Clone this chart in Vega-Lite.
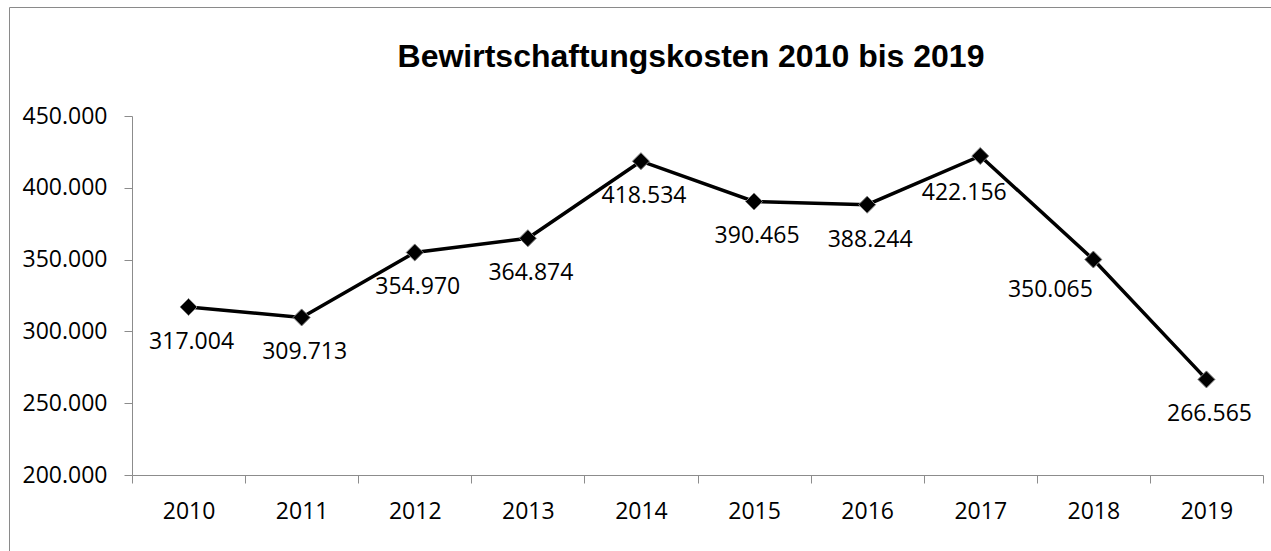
{
  "$schema": "https://vega.github.io/schema/vega-lite/v6.json",
  "autosize": {"type": "none"},
  "padding": {"left": 9, "top": 7, "right": 0, "bottom": 0},
  "width": 1262,
  "height": 544,
  "background": "white",
  "config": {
    "locale": {"number": {"decimal": ",", "thousands": ".", "grouping": [3], "currency": ["", " €"]}},
    "view": {"stroke": "#8a8a8a", "strokeWidth": 1},
    "axis": {"grid": false, "domainColor": "#8c8c8c", "tickColor": "#8c8c8c", "domainWidth": 1, "tickWidth": 1, "labelFont": "Open Sans", "labelFontSize": 23, "labelColor": "#000000", "title": null}
  },
  "title": {
    "text": "Bewirtschaftungskosten 2010 bis 2019",
    "font": "Liberation Sans",
    "fontSize": 32,
    "fontWeight": "bold",
    "color": "#000000",
    "anchor": "middle",
    "frame": "group",
    "baseline": "alphabetic",
    "dx": 51,
    "offset": -92
  },
  "data": {"values": [
    {"year": "2010", "value": 317004},
    {"year": "2011", "value": 309713},
    {"year": "2012", "value": 354970},
    {"year": "2013", "value": 364874},
    {"year": "2014", "value": 418534},
    {"year": "2015", "value": 390465},
    {"year": "2016", "value": 388244},
    {"year": "2017", "value": 422156},
    {"year": "2018", "value": 350065},
    {"year": "2019", "value": 266565}
  ]},
  "encoding": {
    "x": {"field": "year", "type": "nominal", "sort": null,
      "scale": {"type": "band", "paddingInner": 0, "paddingOuter": 0, "range": [123, 1254]},
      "axis": {"orient": "bottom", "offset": -76, "labelAngle": 0, "tickBand": "extent", "tickSize": 8, "labelPadding": 17}},
    "y": {"field": "value", "type": "quantitative",
      "scale": {"domain": [200000, 450000], "range": [468, 109], "nice": false, "zero": false},
      "axis": {"orient": "left", "offset": -123, "values": [200000, 250000, 300000, 350000, 400000, 450000], "format": ",d", "tickSize": 8, "labelPadding": 17}}
  },
  "layer": [
    {"mark": {"type": "line", "color": "#000000", "strokeWidth": 3.5}},
    {"mark": {"type": "point", "shape": "diamond", "filled": true, "fill": "#000000", "stroke": "#7f7f7f", "strokeWidth": 1, "size": 290, "opacity": 1}},
    {"transform": [{"filter": "datum.year != '2017' && datum.year != '2018'"}],
      "mark": {"type": "text", "font": "Open Sans", "fontSize": 23, "color": "#000000", "align": "center", "baseline": "middle", "dx": 3, "dy": 35},
      "encoding": {"text": {"field": "value", "type": "quantitative", "format": ",d"}}},
    {"transform": [{"filter": "datum.year == '2017'"}],
      "mark": {"type": "text", "font": "Open Sans", "fontSize": 23, "color": "#000000", "align": "center", "baseline": "middle", "dx": -16, "dy": 37},
      "encoding": {"text": {"field": "value", "type": "quantitative", "format": ",d"}}},
    {"transform": [{"filter": "datum.year == '2018'"}],
      "mark": {"type": "text", "font": "Open Sans", "fontSize": 23, "color": "#000000", "align": "center", "baseline": "middle", "dx": -43, "dy": 30},
      "encoding": {"text": {"field": "value", "type": "quantitative", "format": ",d"}}}
  ]
}
